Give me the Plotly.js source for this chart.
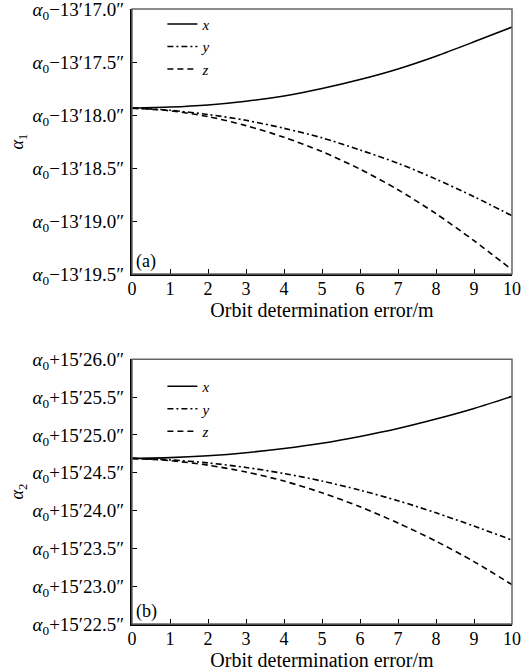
<!DOCTYPE html>
<html>
<head>
<meta charset="utf-8">
<script src="https://cdn.plot.ly/plotly-3.0.1.min.js"></script>
<style>html,body{margin:0;padding:0;background:#fff;}#chart{width:522px;height:672px;}</style>
</head>
<body>
<div id="chart"></div>
<script>
// Orbit determination error (m)
const errorM = [0, 1, 2, 3, 4, 5, 6, 7, 8, 9, 10];

// Panel (a): alpha1 = alpha0 - 13' (value)" ; values are the arc-second part
const a1_x = [17.935, 17.925, 17.905, 17.87, 17.82, 17.75, 17.665, 17.565, 17.445, 17.31, 17.17];
const a1_y = [17.935, 17.955, 17.995, 18.05, 18.125, 18.215, 18.33, 18.455, 18.605, 18.77, 18.95];
const a1_z = [17.935, 17.96, 18.015, 18.10, 18.21, 18.345, 18.51, 18.705, 18.93, 19.185, 19.46];

// Panel (b): alpha2 = alpha0 + 15' (value)"
const a2_x = [24.69, 24.70, 24.725, 24.765, 24.82, 24.89, 24.98, 25.085, 25.21, 25.35, 25.51];
const a2_y = [24.69, 24.67, 24.63, 24.57, 24.49, 24.39, 24.27, 24.13, 23.97, 23.795, 23.61];
const a2_z = [24.69, 24.66, 24.60, 24.51, 24.39, 24.235, 24.05, 23.835, 23.595, 23.325, 23.02];

const a1Ticks = [17.0, 17.5, 18.0, 18.5, 19.0, 19.5];
const a1TickText = a1Ticks.map(v => "<i>α</i><sub>0</sub>−13′" + v.toFixed(1) + "″");
const a2Ticks = [22.5, 23.0, 23.5, 24.0, 24.5, 25.0, 25.5, 26.0];
const a2TickText = a2Ticks.map(v => "<i>α</i><sub>0</sub>+15′" + v.toFixed(1) + "″");
const xTicks = [0,1,2,3,4,5,6,7,8,9,10];

const seriesNames = ["x", "y", "z"];
const dashes = ["solid", "6px,3px,2px,3px", "6px,4px"];

const traces = [];
[[a1_x, a1_y, a1_z], [a2_x, a2_y, a2_z]].forEach((set, p) => {
  set.forEach((vals, i) => {
    traces.push({
      x: errorM, y: vals, type: "scatter", mode: "lines",
      name: "<i>" + seriesNames[i] + "</i>",
      line: {color: "#000", width: 1.6, dash: dashes[i], shape: "spline", smoothing: 0.8},
      xaxis: p === 0 ? "x" : "x2", yaxis: p === 0 ? "y" : "y2",
      legend: p === 0 ? "legend" : "legend2"
    });
  });
});

const FAM = "Liberation Serif, Times New Roman, Times, serif";
const font = {family: FAM, size: 17, color: "#000"};
const xBase = {
  range: [0, 10], tickvals: xTicks, ticks: "inside", ticklen: 5, tickwidth: 1, tickcolor: "#000",
  showline: true, linecolor: "#000", linewidth: 2, showgrid: false, zeroline: false, automargin: false,
  ticklabeloverflow: "allow",
  tickfont: {family: FAM, size: 18, color: "#000"}, ticklabelstandoff: -3,
  title: {text: "Orbit determination error/m", font: {family: FAM, size: 20, color: "#000"}, standoff: 2}
};
const yBase = {
  ticks: "inside", ticklen: 5, tickwidth: 1, tickcolor: "#000",
  showline: true, linecolor: "#000", linewidth: 2, showgrid: false, zeroline: false, automargin: false,
  ticklabeloverflow: "allow",
  tickfont: {family: FAM, size: 19, color: "#000"}, ticklabelstandoff: 2
};
const legendBase = {
  x: 0.08, xanchor: "left", bgcolor: "rgba(0,0,0,0)", borderwidth: 0,
  font: {family: FAM, size: 15, color: "#000"}, itemwidth: 30, tracegroupgap: 0
};

const layout = {
  width: 522, height: 672,
  margin: {l: 132, r: 10, t: 9, b: 48, autoexpand: false},
  paper_bgcolor: "#fff", plot_bgcolor: "#fff",
  font: font,
  showlegend: true,
  xaxis: Object.assign({}, xBase, {anchor: "y", domain: [0, 1]}),
  yaxis: Object.assign({}, yBase, {domain: [0.569, 1], range: [19.5, 17.0], tickvals: a1Ticks, ticktext: a1TickText,
    title: {text: "<i>α</i><sub>1</sub>", font: {family: FAM, size: 18, color: "#000"}, standoff: 4}}),
  xaxis2: Object.assign({}, xBase, {anchor: "y2", domain: [0, 1]}),
  yaxis2: Object.assign({}, yBase, {domain: [0, 0.4304], range: [22.5, 26.0], tickvals: a2Ticks, ticktext: a2TickText,
    title: {text: "<i>α</i><sub>2</sub>", font: {family: FAM, size: 18, color: "#000"}, standoff: 4}}),
  legend: Object.assign({}, legendBase, {y: 1.002, yanchor: "top"}),
  legend2: Object.assign({}, legendBase, {y: 0.413, yanchor: "top"}),
  shapes: [
    {type: "rect", xref: "x domain", yref: "y domain", x0: 0, x1: 1, y0: 0, y1: 1, line: {color: "#666", width: 1.5}},
    {type: "rect", xref: "x2 domain", yref: "y2 domain", x0: 0, x1: 1, y0: 0, y1: 1, line: {color: "#666", width: 1.5}}
  ],
  annotations: [
    {text: "(a)", xref: "x domain", yref: "y domain", x: 0.005, y: 0.0, xanchor: "left", yanchor: "bottom", showarrow: false, font: {family: FAM, size: 18, color: "#000"}},
    {text: "(b)", xref: "x2 domain", yref: "y2 domain", x: 0.005, y: 0.0, xanchor: "left", yanchor: "bottom", showarrow: false, font: {family: FAM, size: 18, color: "#000"}}
  ]
};

Plotly.newPlot("chart", traces, layout, {displayModeBar: false, staticPlot: true});
</script>
</body>
</html>
